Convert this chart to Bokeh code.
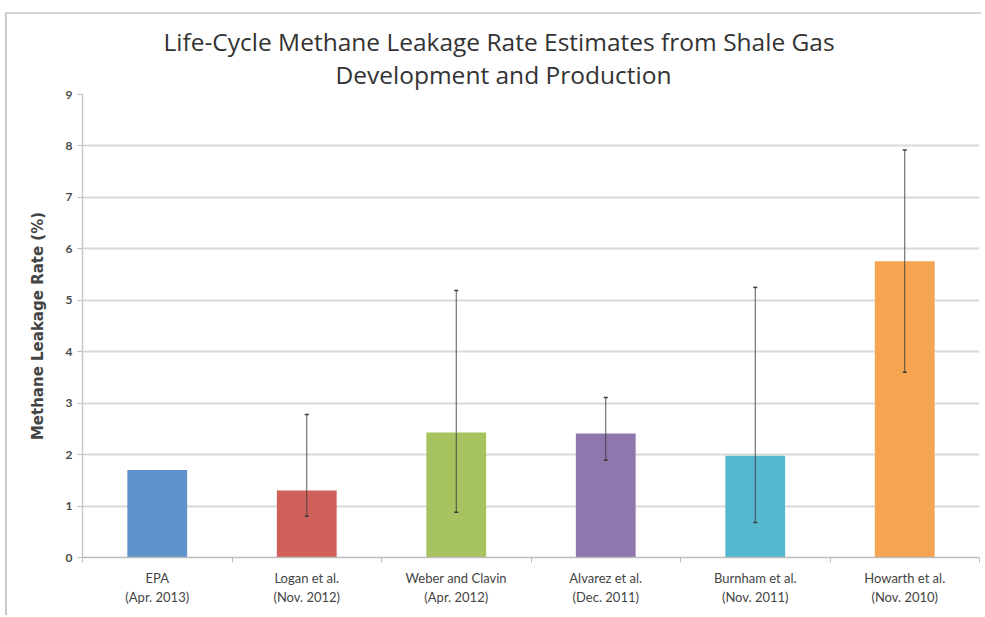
from bokeh.plotting import figure
from bokeh.models import ColumnDataSource, FixedTicker, Whisker, TeeHead, Title, Range1d
from bokeh.embed import file_html
from bokeh.resources import INLINE

categories = ["EPA\n(Apr. 2013)", "Logan et al.\n(Nov. 2012)", "Weber and Clavin\n(Apr. 2012)",
              "Alvarez et al.\n(Dec. 2011)", "Burnham et al.\n(Nov. 2011)", "Howarth et al.\n(Nov. 2010)"]
rates = [1.70, 1.30, 2.43, 2.41, 1.98, 5.76]
err_low = [None, 0.80, 0.88, 1.89, 0.68, 3.60]
err_high = [None, 2.78, 5.19, 3.11, 5.25, 7.92]
colors = ["#5E93CC", "#D0605A", "#A7C35F", "#8F77AE", "#56B8CF", "#F5A452"]
y_ticks = [0, 1, 2, 3, 4, 5, 6, 7, 8, 9]
title_lines = ["Life-Cycle Methane Leakage Rate Estimates from Shale Gas", "Development and Production"]

xpos = [i + 0.5 for i in range(len(categories))]
FONT = "Lato"

p = figure(width=976, height=603, output_backend="svg", toolbar_location=None,
           x_range=Range1d(0, len(categories)), y_range=Range1d(0, 9),
           min_border_left=75, min_border_right=4, min_border_top=80, min_border_bottom=60)
p.outline_line_color = None
p.background_fill_color = "white"
p.border_fill_color = "white"
p.styles = {"margin-left": "5px", "margin-top": "12px",
            "border-left": "2px solid #c9c9c9", "border-top": "2px solid #d4d4d4"}

src = ColumnDataSource(dict(x=xpos, top=rates, color=colors))
p.vbar(x="x", top="top", bottom=0, width=0.4, fill_color="color", line_color=None, source=src)

ex = [xpos[i] for i in range(len(categories)) if err_low[i] is not None]
el = [v for v in err_low if v is not None]
eh = [v for v in err_high if v is not None]
esrc = ColumnDataSource(dict(base=ex, lower=el, upper=eh))
wh = Whisker(base="base", lower="lower", upper="upper", source=esrc, dimension="height",
             line_color="#3a3a3a", line_width=1, line_alpha=0.85, level="overlay",
             upper_head=TeeHead(size=4, line_color="#3a3a3a", line_width=1.5),
             lower_head=TeeHead(size=4, line_color="#3a3a3a", line_width=1.5))
p.add_layout(wh)

# x axis
p.xaxis.ticker = FixedTicker(ticks=xpos, minor_ticks=list(range(len(categories) + 1)))
p.xaxis.major_label_overrides = {x: c for x, c in zip(xpos, categories)}
p.xaxis.major_tick_line_color = None
p.xaxis.minor_tick_line_color = "#bdbdbd"
p.xaxis.minor_tick_in = 0
p.xaxis.minor_tick_out = 5
p.xaxis.axis_line_color = "#bdbdbd"
p.xaxis.axis_line_width = 1.5
p.xaxis.major_label_text_font = FONT
p.xaxis.major_label_text_font_size = "13px"
p.xaxis.major_label_text_color = "#444444"
p.xaxis.major_label_standoff = 6
p.xgrid.grid_line_color = None

# y axis
p.yaxis.ticker = FixedTicker(ticks=y_ticks)
p.yaxis.minor_tick_line_color = None
p.yaxis.major_tick_in = 0
p.yaxis.major_tick_out = 5
p.yaxis.major_tick_line_color = "#bdbdbd"
p.yaxis.axis_line_color = "#c8c8c8"
p.yaxis.axis_line_width = 1.5
p.yaxis.major_label_text_font = FONT
p.yaxis.major_label_text_font_size = "12px"
p.yaxis.major_label_text_font_style = "bold"
p.yaxis.major_label_text_color = "#4a4a4a"
p.yaxis.major_label_standoff = 5
p.yaxis.axis_label = "Methane Leakage Rate (%)"
p.yaxis.axis_label_text_font = "DejaVu Sans"
p.yaxis.axis_label_text_font_size = "15px"
p.yaxis.axis_label_text_font_style = "bold"
p.yaxis.axis_label_text_color = "#444444"
p.yaxis.axis_label_standoff = 16
p.ygrid.grid_line_color = "#d9d9d9"
p.ygrid.grid_line_width = 2

# titles: later-added titles stack further from the frame
p.add_layout(Title(text=title_lines[1], align="left", offset=253, standoff=7,
                   text_font="Open Sans", text_font_size="24.5px", text_font_style="normal",
                   text_color="#333333"), "above")
p.add_layout(Title(text=title_lines[0], align="left", offset=81, standoff=-11,
                   text_font="Open Sans", text_font_size="24.5px", text_font_style="normal",
                   text_color="#333333"), "above")

open("out.html", "w").write(file_html(p, INLINE))
